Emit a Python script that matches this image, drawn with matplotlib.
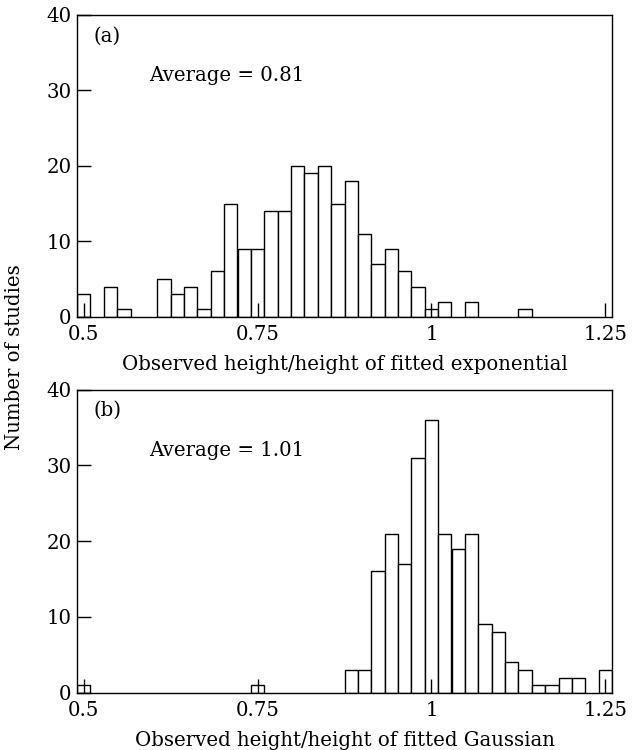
import numpy as np
import matplotlib
matplotlib.use("Agg")
import matplotlib.pyplot as plt

plt.rcParams['font.family'] = ['DejaVu Serif']

# bin index k -> bin centre 0.5 + k*0.25/13
bin_width = 0.25 / 13
n_bins = 40

counts_a = {0: 3, 2: 4, 3: 1, 6: 5, 7: 3, 8: 4, 9: 1, 10: 6, 11: 15, 12: 9,
            13: 9, 14: 14, 15: 14, 16: 20, 17: 19, 18: 20, 19: 15, 20: 18,
            21: 11, 22: 7, 23: 9, 24: 6, 25: 4, 26: 1, 27: 2, 29: 2, 33: 1}
counts_b = {0: 1, 13: 1, 20: 3, 21: 3, 22: 16, 23: 21, 24: 17, 25: 31,
            26: 36, 27: 21, 28: 19, 29: 21, 30: 9, 31: 8, 32: 4, 33: 3,
            34: 1, 35: 1, 36: 2, 37: 2, 39: 3}

panels = [
    ("(a)", "Average = 0.81", "Observed height/height of fitted exponential", counts_a),
    ("(b)", "Average = 1.01", "Observed height/height of fitted Gaussian", counts_b),
]
xticks = [0.5, 0.75, 1.0, 1.25]
xticklabels = ["0.5", "0.75", "1", "1.25"]
yticks = [0, 10, 20, 30, 40]

W, H = 632, 750
fig = plt.figure(figsize=(W / 100, H / 100), dpi=100)

rects = [
    [77 / W, 1 - 316.7 / H, (612 - 77) / W, (316.7 - 15) / H],
    [77 / W, 1 - 692.7 / H, (612 - 77) / W, (692.7 - 389.5) / H],
]
fs = 14.2

for (tag, avg, xlabel, counts), rect in zip(panels, rects):
    ax = fig.add_axes(rect)
    centers = 0.5 + np.arange(n_bins) * bin_width
    heights = np.array([counts.get(k, 0) for k in range(n_bins)])
    mask = heights > 0
    ax.bar(centers[mask], heights[mask], width=bin_width, color='white',
           edgecolor='black', linewidth=1.0, align='center')
    ax.set_xlim(0.5 - bin_width / 2, 1.25 + bin_width / 2)
    ax.set_ylim(0, 40)
    ax.set_xticks(xticks)
    ax.set_xticklabels(xticklabels, fontsize=fs)
    ax.set_yticks(yticks)
    ax.set_yticklabels([str(v) for v in yticks], fontsize=fs)
    ax.tick_params(axis='x', direction='in', length=10, width=1.0, pad=6,
                   top=False)
    ax.tick_params(axis='y', direction='in', length=10, width=1.0, pad=4,
                   right=False)
    for s in ax.spines.values():
        s.set_linewidth(1.0)
    ax.set_xlabel(xlabel, fontsize=fs, labelpad=8)
    ax.text(0.03, 0.93, tag, transform=ax.transAxes, fontsize=fs,
            ha='left', va='center')
    ax.text(0.135, 0.80, avg, transform=ax.transAxes, fontsize=fs,
            ha='left', va='center')

fig.text(15 / W, 1 - 357 / H, "Number of studies", rotation=90,
         fontsize=fs, ha='center', va='center')

fig.savefig("out.png", dpi=100)
